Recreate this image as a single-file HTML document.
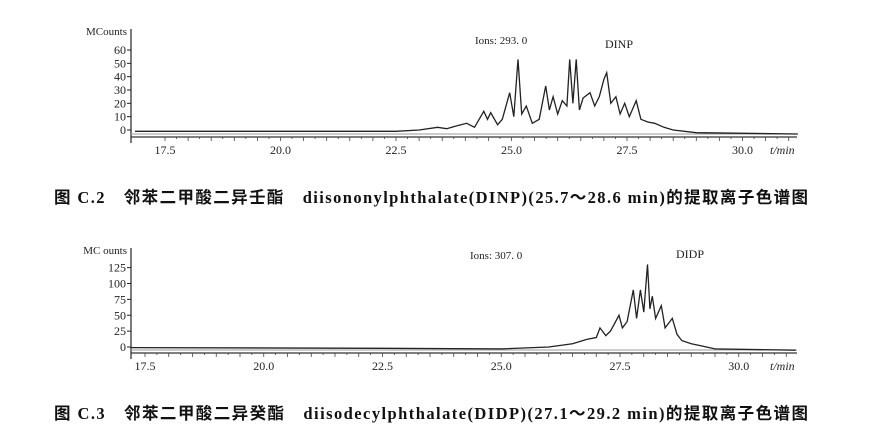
<!DOCTYPE html>
<html><head><meta charset="utf-8"><style>
body{margin:0;background:#fff;width:870px;height:443px;overflow:hidden}
svg{display:block}
text{font-family:"Liberation Serif","Noto Serif CJK SC",serif;fill:#222}
.cap{font-size:16.5px;font-family:"Liberation Serif","Noto Sans CJK SC",serif;font-weight:bold;fill:#111}
</style></head><body>
<svg id="s" width="870" height="443">
<g id="c1"></g>
<g id="c2"></g>
<text class="cap" x="54" y="203" textLength="754" lengthAdjust="spacing">图 C.2　邻苯二甲酸二异壬酯　diisononylphthalate(DINP)(25.7～28.6 min)的提取离子色谱图</text>
<text class="cap" x="54" y="419" textLength="754" lengthAdjust="spacing">图 C.3　邻苯二甲酸二异癸酯　diisodecylphthalate(DIDP)(27.1～29.2 min)的提取离子色谱图</text>
</svg>
<script>
const xTicks=[17.5,20.0,22.5,25.0,27.5,30.0];
const y1Ticks=[0,10,20,30,40,50,60];
const y2Ticks=[0,25,50,75,100,125];
const dinpTimes=[16.85,22.5,23.0,23.4,23.6,23.8,24.03,24.2,24.4,24.48,24.55,24.7,24.8,24.96,25.05,25.14,25.22,25.32,25.45,25.6,25.74,25.82,25.9,26.0,26.1,26.2,26.26,26.33,26.4,26.47,26.55,26.7,26.8,26.9,27.0,27.06,27.15,27.26,27.35,27.45,27.55,27.7,27.8,27.95,28.1,28.3,28.5,29.0,31.2];
const dinpVals=[-1,-1,0,2,1,3,5,2,14,8,13,4,8,28,10,53,12,18,5,8,33,15,25,12,22,18,53,20,53,15,24,28,18,25,38,43,20,25,12,20,10,22,8,6,5,2,0,-2,-3];
const didpTimes=[17.2,22.5,25.0,26.0,26.5,26.8,27.0,27.08,27.2,27.3,27.48,27.55,27.65,27.78,27.85,27.93,28.0,28.08,28.13,28.18,28.25,28.37,28.45,28.6,28.7,28.8,29.0,29.2,29.5,31.2];
const didpVals=[-1,-2,-3,0,5,12,15,30,18,25,50,30,40,90,45,90,55,130,60,80,45,65,30,45,20,10,5,2,-3,-5];
const NS='http://www.w3.org/2000/svg';
function el(p,t,a){const e=document.createElementNS(NS,t);for(const k in a)e.setAttribute(k,a[k]);p.appendChild(e);return e;}
function chart(g,cfg){
  const X=t=>cfg.x0+(t-17.5)*cfg.kx, Y=v=>cfg.y0-v*cfg.ky;
  const ax=el(g,'line',{x1:131,y1:cfg.top,x2:131,y2:cfg.axY+6,stroke:'#222','stroke-width':1.2});
  
  
  const bx=el(g,'line',{x1:131,y1:cfg.axY,x2:797,y2:cfg.axY,stroke:'#333','stroke-width':1.2});
  
  
  el(g,'line',{x1:131,y1:cfg.axY-3,x2:797,y2:cfg.axY-3,stroke:'#999','stroke-width':1});
  for(let t=17.5;t<=31;t+=0.25){el(g,'line',{x1:X(t),y1:cfg.axY,x2:X(t),y2:cfg.axY+(Math.abs(t*2-Math.round(t*2))<1e-6?4:2),stroke:'#444','stroke-width':0.8});}
  xTicks.forEach(t=>{const tx=el(g,'text',{x:X(t),y:cfg.axY+17,'text-anchor':'middle','font-size':12});tx.textContent=t.toFixed(1);
    
    });
  const tm=el(g,'text',{x:770,y:cfg.axY+17,'font-size':12,'font-style':'italic'});tm.textContent='t/min';
  
  
  cfg.yt.forEach(v=>{el(g,'line',{x1:127,y1:Y(v),x2:131,y2:Y(v),stroke:'#222'});
    const tx=el(g,'text',{x:126,y:Y(v)+4,'text-anchor':'end','font-size':12});tx.textContent=v;
    
    });
  const mc=el(g,'text',{x:127,y:cfg.top+6,'text-anchor':'end','font-size':11});mc.textContent=cfg.mc;
  
  
  const pts=cfg.t.map((t,i)=>X(t).toFixed(1)+','+Y(cfg.v[i]).toFixed(1)).join(' ');
  const pl=el(g,'polyline',{points:pts,fill:'none',stroke:'#222','stroke-width':1.3});
  
  
  const io=el(g,'text',{x:cfg.ionX,y:cfg.ionY,'font-size':11});io.textContent=cfg.ion;
  
  
  const nm=el(g,'text',{x:cfg.nX,y:cfg.nY,'font-size':12});nm.textContent=cfg.name;
  
  
}
chart(document.getElementById('c1'),{x0:165,kx:46.2,y0:130,ky:1.333,axY:137,top:29,yt:y1Ticks,mc:'MCounts',t:dinpTimes,v:dinpVals,ion:'Ions: 293. 0',ionX:475,ionY:44,name:'DINP',nX:605,nY:48});
chart(document.getElementById('c2'),{x0:145,kx:47.5,y0:347,ky:0.635,axY:353,top:248,yt:y2Ticks,mc:'MC ounts',t:didpTimes,v:didpVals,ion:'Ions: 307. 0',ionX:470,ionY:259,name:'DIDP',nX:676,nY:258});
</script>
</body></html>
